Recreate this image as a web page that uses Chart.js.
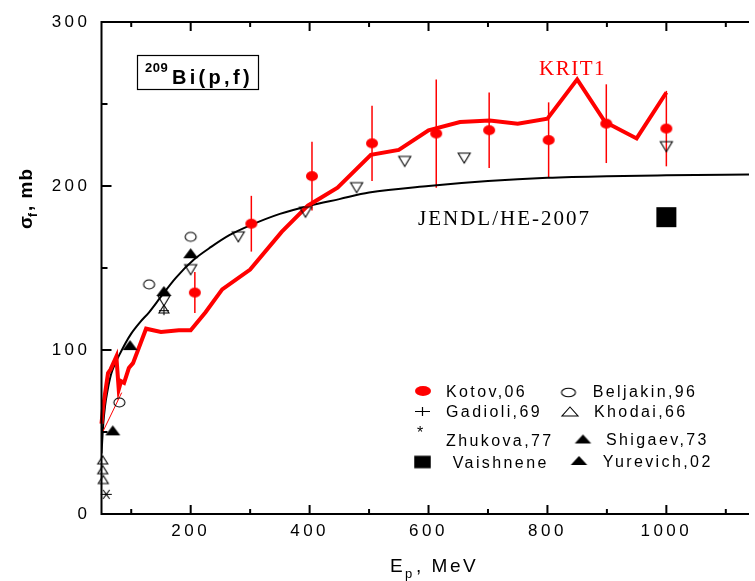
<!DOCTYPE html>
<html>
<head>
<meta charset="utf-8">
<script src="https://cdn.jsdelivr.net/npm/chart.js@4.4.1/dist/chart.umd.min.js"></script>
<style>
html, body { margin: 0; padding: 0; background: #fff; overflow: hidden; }
#wrap { width: 755px; height: 581px; }
</style>
</head>
<body>
<div id="wrap"><canvas id="sigmaChart" width="755" height="581"></canvas></div>
<script>
// 209Bi(p,f) fission cross section vs proton energy

// KRIT1 calculation (thick red line)
const kritE = [50, 53, 61, 65, 75, 79, 83, 88, 96, 103, 125, 150, 180, 200, 225, 253, 300, 353, 397, 447, 503, 550, 600, 653, 703, 750, 800, 850, 897, 950, 1000];
const kritSigma = [55, 66, 86, 88, 96, 76, 81, 80, 89, 92, 113, 111, 112, 112, 123, 137, 149, 172, 188, 199, 219, 222, 234, 239, 240, 238, 241, 265, 239, 229, 257];

// thin red segment at low energy
const thinE = [52, 84];
const thinSigma = [50, 74];

// JENDL/HE-2007 evaluation
const jendlE = [50, 53, 56, 60, 66, 72, 80, 90, 100, 115, 130, 150, 175, 205, 235, 265, 300, 350, 400, 450, 500, 600, 700, 800, 900, 1000, 1150];
const jendlSigma = [37, 55, 66, 75, 85, 91, 97, 104, 110, 117, 123, 132.5, 144, 155, 163, 170, 176, 183, 188, 192, 196, 200, 203, 205, 206, 206.5, 207];

// measurements
const kotovE = [207, 302, 404, 505, 613, 702, 802, 899, 1000];
const kotovSigma = [135, 177, 206, 226, 232, 234, 228, 238, 235];
const kotovErr = [12.5, 17, 21, 23, 33, 23, 23, 24, 23];

const beljakinE = [80, 130, 200];
const beljakinSigma = [68, 140, 169];

const gadioliE = [155];
const gadioliSigma = [124];

const khodaiE = [52, 52, 53, 155];
const khodaiSigma = [33, 27, 21, 125];

const zhukovaE = [58];
const zhukovaSigma = [12];

const shigaevE = [69, 98, 155];
const shigaevSigma = [51, 103, 136];

const yurevichE = [200];
const yurevichSigma = [159];

const vaishneneE = [1000];
const vaishneneSigma = [181];

const downTriE = [155, 200, 280, 393, 479, 560, 660, 1000];
const downTriSigma = [130, 149, 169, 184, 199, 215, 217, 224];

// axis ticks
const xTickLabels = [200, 400, 600, 800, 1000];
const xMinorTicks = [100, 300, 500, 700, 900, 1100];
const yTickLabels = [0, 100, 200, 300];
const yMinorTicks = [50, 150, 250];

const zip = (xs, ys) => xs.map((x, i) => ({ x: x, y: ys[i] }));

function marker(w, h, shape, fill, stroke, lw) {
    const c = document.createElement('canvas');
    c.width = Math.ceil(w + 6);
    c.height = Math.ceil(h + 6);
    const g = c.getContext('2d');
    g.translate(c.width / 2, c.height / 2);
    const hw = w / 2, hh = h / 2;
    g.beginPath();
    if (shape === 'ellipse') {
        g.ellipse(0, 0, hw, hh, 0, 0, Math.PI * 2);
    } else if (shape === 'up') {
        g.moveTo(0, -hh); g.lineTo(hw, hh); g.lineTo(-hw, hh); g.closePath();
    } else if (shape === 'down') {
        g.moveTo(0, hh); g.lineTo(hw, -hh); g.lineTo(-hw, -hh); g.closePath();
    } else if (shape === 'square') {
        g.rect(-hw, -hh, w, h);
    } else if (shape === 'plus') {
        g.moveTo(-hw, 0); g.lineTo(hw, 0); g.moveTo(0, -hh); g.lineTo(0, hh);
    } else if (shape === 'star') {
        g.moveTo(-hw, 0); g.lineTo(hw, 0);
        g.moveTo(-hw * 0.6, -hh); g.lineTo(hw * 0.6, hh);
        g.moveTo(hw * 0.6, -hh); g.lineTo(-hw * 0.6, hh);
    }
    if (fill) { g.fillStyle = fill; g.fill(); }
    if (stroke) { g.strokeStyle = stroke; g.lineWidth = lw; g.stroke(); }
    return c;
}

const RED = '#ff0000';

const plotMarks = {
    kotov: marker(12, 10, 'ellipse', RED),
    beljakin: marker(11, 9, 'ellipse', null, '#000', 1.1),
    gadioli: marker(10, 9, 'plus', null, '#000', 1.1),
    khodai: marker(10, 8, 'up', null, '#000', 1.1),
    zhukova: marker(11, 9, 'star', null, '#000', 1.1),
    filled: marker(15, 10, 'up', '#000'),
    square: marker(20, 20, 'square', '#000'),
    down: marker(12, 10, 'down', null, '#000', 1.1)
};

const legendMarks = {
    kotov: marker(16, 10, 'ellipse', RED),
    beljakin: marker(14, 8.5, 'ellipse', null, '#000', 1.1),
    gadioli: marker(15, 9, 'plus', null, '#000', 1.2),
    khodai: marker(16, 9, 'up', null, '#000', 1.1),
    filled: marker(16.5, 9, 'up', '#000'),
    square: marker(16.5, 12.5, 'square', '#000')
};

function pointSet(label, xs, ys, style) {
    return {
        label: label,
        data: zip(xs, ys),
        pointStyle: style,
        pointRadius: 5,
        showLine: false,
        clip: false
    };
}

// error bars, axis frame, inside ticks, labels and legend
const decorations = {
    id: 'decorations',
    beforeDraw(chart) {
        chart.ctx.letterSpacing = '3.5px';
    },
    beforeDatasetsDraw(chart) {
        const ctx = chart.ctx;
        const ys = chart.scales.y;
        const meta = chart.getDatasetMeta(0);
        ctx.save();
        ctx.strokeStyle = RED;
        ctx.lineWidth = 1.5;
        meta.data.forEach((pt, i) => {
            const top = ys.getPixelForValue(kotovSigma[i] + kotovErr[i]);
            const bot = ys.getPixelForValue(kotovSigma[i] - kotovErr[i]);
            ctx.beginPath();
            ctx.moveTo(pt.x, top);
            ctx.lineTo(pt.x, bot);
            ctx.stroke();
        });
        ctx.restore();
    },
    afterDraw(chart) {
        const ctx = chart.ctx;
        ctx.letterSpacing = '0px';
        const a = chart.chartArea;
        const xs = chart.scales.x, ys = chart.scales.y;
        ctx.save();
        ctx.strokeStyle = '#000';
        ctx.lineWidth = 2;
        ctx.beginPath();
        ctx.moveTo(a.left, a.top); ctx.lineTo(a.left, a.bottom);
        ctx.moveTo(a.left - 1, a.bottom); ctx.lineTo(a.right, a.bottom);
        ctx.moveTo(a.left - 1, a.top); ctx.lineTo(a.right, a.top);
        ctx.stroke();

        const xTick = (v, len) => {
            const px = xs.getPixelForValue(v);
            ctx.moveTo(px, a.bottom); ctx.lineTo(px, a.bottom - len);
            ctx.moveTo(px, a.top); ctx.lineTo(px, a.top + len);
        };
        const yTick = (v, len) => {
            const py = ys.getPixelForValue(v);
            ctx.moveTo(a.left, py); ctx.lineTo(a.left + len, py);
        };
        ctx.beginPath();
        xTickLabels.forEach(v => xTick(v, 9));
        xMinorTicks.forEach(v => xTick(v, 5));
        yTickLabels.forEach(v => yTick(v, 10));
        yMinorTicks.forEach(v => yTick(v, 6));
        ctx.stroke();

        // axis titles
        ctx.fillStyle = '#000';
        ctx.textBaseline = 'alphabetic';
        ctx.textAlign = 'left';
        ctx.font = '19px "Liberation Sans"';
        ctx.letterSpacing = '2.5px';
        ctx.fillText('E', 390, 572);
        ctx.font = '13px "Liberation Sans"';
        ctx.fillText('p', 405, 578);
        ctx.font = '19px "Liberation Sans"';
        ctx.fillText(', MeV', 416, 572);

        ctx.save();
        ctx.translate(32, 229);
        ctx.rotate(-Math.PI / 2);
        ctx.letterSpacing = '1px';
        ctx.font = 'bold 19px "Liberation Sans"';
        ctx.fillText('\u03c3', 0, 0);
        ctx.font = 'bold 12px "Liberation Sans"';
        ctx.fillText('f', 12, 5);
        ctx.font = 'bold 19px "Liberation Sans"';
        ctx.fillText(', mb', 18, 0);
        ctx.restore();

        // reaction label box
        ctx.lineWidth = 1.2;
        ctx.strokeRect(137.5, 55.5, 121, 34);
        ctx.letterSpacing = '0.5px';
        ctx.font = 'bold 13px "Liberation Sans"';
        ctx.fillText('209', 145, 72);
        ctx.letterSpacing = '3.3px';
        ctx.font = 'bold 20px "Liberation Sans"';
        ctx.fillText('Bi(p,f)', 172, 84);

        // curve labels
        ctx.font = '21px "Liberation Serif"';
        ctx.letterSpacing = '1.5px';
        ctx.fillStyle = RED;
        ctx.fillText('KRIT1', 539, 75);
        ctx.fillStyle = '#000';
        ctx.letterSpacing = '2px';
        ctx.fillText('JENDL/HE-2007', 418, 225);

        // legend
        const put = (img, x, y) => ctx.drawImage(img, x - img.width / 2, y - img.height / 2);
        put(legendMarks.kotov, 423, 391);
        put(legendMarks.gadioli, 422.5, 411.5);
        put(legendMarks.square, 422.5, 462);
        put(legendMarks.beljakin, 568.5, 392.5);
        put(legendMarks.khodai, 570, 411.5);
        put(legendMarks.filled, 583, 439);
        put(legendMarks.filled, 579, 460.5);

        ctx.font = '16px "Liberation Sans"';
        ctx.letterSpacing = '2.4px';
        ctx.fillText('Kotov,06', 446, 397.3);
        ctx.fillText('Gadioli,69', 446, 416.7);
        ctx.fillText('Zhukova,77', 446, 446);
        ctx.fillText('Vaishnene', 452.7, 468.3);
        ctx.fillText('Beljakin,96', 592.7, 397.3);
        ctx.fillText('Khodai,66', 594, 416.7);
        ctx.fillText('Shigaev,73', 606, 444.5);
        ctx.fillText('Yurevich,02', 602.7, 466.7);
        ctx.letterSpacing = '0px';
        ctx.fillText('*', 417, 438);
        ctx.restore();
    }
};

const ctx = document.getElementById('sigmaChart').getContext('2d');
const sigmaChart = new Chart(ctx, {
    type: 'scatter',
    data: {
        datasets: [
            pointSet('Kotov,06', kotovE, kotovSigma, plotMarks.kotov),
            pointSet('Vaishnene', vaishneneE, vaishneneSigma, plotMarks.square),
            pointSet('Yurevich,02', yurevichE, yurevichSigma, plotMarks.filled),
            pointSet('Shigaev,73', shigaevE, shigaevSigma, plotMarks.filled),
            pointSet('Beljakin,96', beljakinE, beljakinSigma, plotMarks.beljakin),
            pointSet('Gadioli,69', gadioliE, gadioliSigma, plotMarks.gadioli),
            pointSet('Khodai,66', khodaiE, khodaiSigma, plotMarks.khodai),
            pointSet('Zhukova,77', zhukovaE, zhukovaSigma, plotMarks.zhukova),
            pointSet('open down', downTriE, downTriSigma, plotMarks.down),
            {
                label: 'KRIT1',
                data: zip(kritE, kritSigma),
                showLine: true,
                borderColor: RED,
                borderWidth: 4,
                pointRadius: 0,
                tension: 0,
                clip: false
            },
            {
                label: 'thin',
                data: zip(thinE, thinSigma),
                showLine: true,
                borderColor: RED,
                borderWidth: 1,
                pointRadius: 0
            },
            {
                label: 'JENDL/HE-2007',
                data: zip(jendlE, jendlSigma),
                showLine: true,
                borderColor: '#000',
                borderWidth: 2,
                pointRadius: 0,
                cubicInterpolationMode: 'monotone'
            }
        ]
    },
    options: {
        responsive: false,
        animation: false,
        events: [],
        layout: { padding: { left: 0, right: 0, top: 22, bottom: 0 } },
        plugins: {
            legend: { display: false },
            tooltip: { enabled: false }
        },
        scales: {
            x: {
                type: 'linear',
                min: 50,
                max: 1139,
                grid: { display: false, drawTicks: false },
                border: { display: false },
                ticks: {
                    color: '#000',
                    font: { family: 'Liberation Sans', size: 17 },
                    padding: 7,
                    maxRotation: 0,
                    autoSkip: false,
                    callback: v => String(v)
                },
                afterBuildTicks: s => { s.ticks = xTickLabels.map(v => ({ value: v })); },
                afterFit: s => { s.height = 67; }
            },
            y: {
                type: 'linear',
                min: 0,
                max: 300,
                grid: { display: false, drawTicks: false },
                border: { display: false },
                ticks: {
                    color: '#000',
                    font: { family: 'Liberation Sans', size: 17 },
                    padding: 11,
                    callback: v => String(v)
                },
                afterBuildTicks: s => { s.ticks = yTickLabels.map(v => ({ value: v })); },
                afterFit: s => { s.width = 101.5; }
            }
        }
    },
    plugins: [decorations]
});
</script>
</body>
</html>
